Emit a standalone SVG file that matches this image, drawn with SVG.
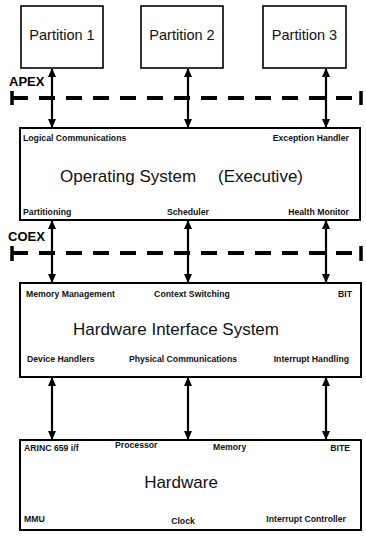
<svg xmlns="http://www.w3.org/2000/svg" width="366" height="536" viewBox="0 0 366 536">
<defs>
<style>
.box{fill:#fff;stroke:#000;stroke-width:2}
.pbox{fill:#fff;stroke:#000;stroke-width:1.6}
.big{font-family:"Liberation Sans",Arial,sans-serif;font-size:17px;fill:#111}
.part{font-family:"Liberation Sans",Arial,sans-serif;font-size:14.5px;fill:#111}
.sm{font-family:"Liberation Sans",Arial,sans-serif;font-size:8.7px;font-weight:bold;fill:#111}
.lbl{font-family:"Liberation Sans",Arial,sans-serif;font-size:13px;font-weight:bold;fill:#000}
.arr{stroke:#000;stroke-width:2.2;fill:none;marker-start:url(#ah);marker-end:url(#ah)}
.dash{stroke:#000;stroke-width:4;stroke-dasharray:16 11;fill:none}
.tick{stroke:#000;stroke-width:3.5}
</style>
<marker id="ah" viewBox="0 0 10 10" refX="9" refY="5" markerWidth="9" markerHeight="9" markerUnits="userSpaceOnUse" orient="auto-start-reverse">
<path d="M0,0.5 L10,5 L0,9.5 Z" fill="#000"/>
</marker>
</defs>
<rect width="366" height="536" fill="#fff"/>

<g id="interfaces">
<text class="lbl" x="9" y="86">APEX</text>
<line class="tick" x1="12" y1="91" x2="12" y2="105"/>
<line class="dash" x1="12" y1="98" x2="360" y2="98"/>
<line class="tick" x1="361" y1="91" x2="361" y2="105"/>
<text class="lbl" x="8" y="241">COEX</text>
<line class="tick" x1="12" y1="246" x2="12" y2="261"/>
<line class="dash" x1="12" y1="253" x2="360" y2="253"/>
<line class="tick" x1="361" y1="246" x2="361" y2="261"/>
</g>

<g id="partition1">
<rect class="pbox" x="21" y="6" width="82" height="62"/>
<text class="part" x="62" y="40" text-anchor="middle">Partition 1</text>
</g>
<g id="partition2">
<rect class="pbox" x="141" y="6" width="82" height="62"/>
<text class="part" x="182" y="40" text-anchor="middle">Partition 2</text>
</g>
<g id="partition3">
<rect class="pbox" x="263" y="6" width="83" height="62"/>
<text class="part" x="304.5" y="40" text-anchor="middle">Partition 3</text>
</g>

<g id="os">
<rect class="box" x="20" y="128" width="340" height="92"/>
<text class="sm" x="23" y="141">Logical Communications</text>
<text class="sm" x="349" y="141" text-anchor="end">Exception Handler</text>
<text class="big" x="60" y="182">Operating System</text>
<text class="big" x="303" y="182" text-anchor="end">(Executive)</text>
<text class="sm" x="23" y="215">Partitioning</text>
<text class="sm" x="188" y="215" text-anchor="middle">Scheduler</text>
<text class="sm" x="349" y="215" text-anchor="end">Health Monitor</text>
</g>

<g id="his">
<rect class="box" x="20" y="283" width="341" height="94"/>
<text class="sm" x="26" y="297">Memory Management</text>
<text class="sm" x="192" y="297" text-anchor="middle">Context Switching</text>
<text class="sm" x="352" y="297" text-anchor="end">BIT</text>
<text class="big" x="176" y="335" text-anchor="middle">Hardware Interface System</text>
<text class="sm" x="27" y="362">Device Handlers</text>
<text class="sm" x="183" y="362" text-anchor="middle">Physical Communications</text>
<text class="sm" x="349" y="362" text-anchor="end">Interrupt Handling</text>
</g>

<g id="hardware">
<rect class="box" x="20" y="440" width="341" height="90"/>
<text class="sm" x="24" y="451">ARINC 659 i/f</text>
<text class="sm" x="115" y="448">Processor</text>
<text class="sm" x="213" y="450">Memory</text>
<text class="sm" x="350" y="451" text-anchor="end">BITE</text>
<text class="big" x="181" y="488" text-anchor="middle">Hardware</text>
<text class="sm" x="24" y="522">MMU</text>
<text class="sm" x="183" y="524" text-anchor="middle">Clock</text>
<text class="sm" x="346" y="522" text-anchor="end">Interrupt Controller</text>
</g>

<g id="connectors">
<line class="arr" x1="52" y1="69" x2="52" y2="127"/>
<line class="arr" x1="188" y1="69" x2="188" y2="127"/>
<line class="arr" x1="326" y1="69" x2="326" y2="127"/>
<line class="arr" x1="52" y1="221" x2="52" y2="282"/>
<line class="arr" x1="188" y1="221" x2="188" y2="282"/>
<line class="arr" x1="326" y1="221" x2="326" y2="282"/>
<line class="arr" x1="52" y1="378" x2="52" y2="439"/>
<line class="arr" x1="188" y1="378" x2="188" y2="439"/>
<line class="arr" x1="326" y1="378" x2="326" y2="439"/>
</g>
</svg>
